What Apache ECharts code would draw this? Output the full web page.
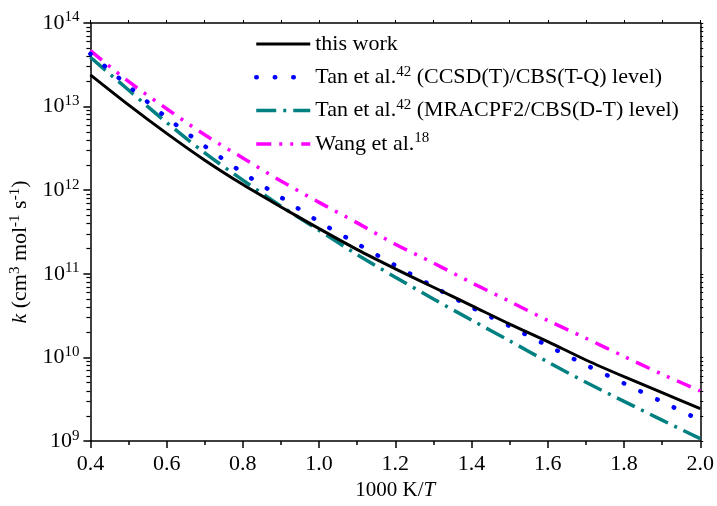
<!DOCTYPE html>
<html>
<head>
<meta charset="utf-8">
<script src="https://cdn.jsdelivr.net/npm/echarts@6/dist/echarts.min.js"></script>
<style>html,body{margin:0;padding:0;background:#fff}#c{width:717px;height:506px}</style>
</head>
<body>
<div id="c"></div>
<script>
// x values: 1000 K / T
var xValues = [0.4, 0.5, 0.6, 0.7, 0.8, 0.9, 1.0, 1.1, 1.2, 1.3, 1.4, 1.5, 1.6, 1.7, 1.8, 1.9, 2.0];
// k (cm^3 mol^-1 s^-1)
var thisWork = [2.40e13, 1.05e13, 4.79e12, 2.29e12, 1.17e12, 6.31e11, 3.47e11, 1.95e11, 1.15e11, 6.92e10, 4.17e10, 2.51e10, 1.55e10, 9.33e9, 5.89e9, 3.80e9, 2.45e9];
var tanCCSD = [4.27e13, 1.76e13, 7.41e12, 3.37e12, 1.62e12, 8.22e11, 4.20e11, 2.29e11, 1.26e11, 7.03e10, 3.98e10, 2.37e10, 1.38e10, 8.13e9, 4.90e9, 2.95e9, 1.78e9];
var tanMRACPF2 = [3.89e13, 1.58e13, 6.46e12, 2.80e12, 1.32e12, 6.46e11, 3.31e11, 1.70e11, 9.12e10, 5.01e10, 2.80e10, 1.58e10, 8.85e9, 5.05e9, 2.99e9, 1.78e9, 1.07e9];
var wang = [4.68e13, 2.00e13, 9.44e12, 4.60e12, 2.43e12, 1.29e12, 7.16e11, 4.07e11, 2.26e11, 1.35e11, 7.85e10, 4.68e10, 2.77e10, 1.70e10, 1.03e10, 6.31e9, 3.98e9];
// tick labels
var xTickLabels = ['0.4', '0.6', '0.8', '1.0', '1.2', '1.4', '1.6', '1.8', '2.0'];
var yExponents = [9, 10, 11, 12, 13, 14];
var yMinorMultipliers = [2, 3, 4, 5, 6, 7, 8, 9];
var seriesNames = ['this work', 'Tan et al. (CCSD(T)/CBS(T-Q) level)', 'Tan et al. (MRACPF2/CBS(D-T) level)', 'Wang et al.'];
var legendRich = {
  'this work': '{n|this work}',
  'Tan et al. (CCSD(T)/CBS(T-Q) level)': '{n|Tan et al.}{s|42}{n| (CCSD(T)/CBS(T-Q) level)}',
  'Tan et al. (MRACPF2/CBS(D-T) level)': '{n|Tan et al.}{s|42}{n| (MRACPF2/CBS(D-T) level)}',
  'Wang et al.': '{n|Wang et al.}{s|18}'
};

function pairs(vals) { return xValues.map(function (x, i) { return [x, vals[i]]; }); }

var minorLog = [];
yExponents.forEach(function (e) {
  if (e < 14) yMinorMultipliers.forEach(function (m) { minorLog.push(e + Math.log10(m)); });
});
var allLog = yExponents.concat(minorLog);

var FONT = 'Liberation Serif';
var styles = [
  { color: '#000000', width: 3, type: 'solid' },
  { color: '#0000ff', width: 4.5, type: [0.5, 18], cap: 'round' },
  { color: '#008080', width: 3.5, type: [20, 7, 3, 7] },
  { color: '#ff00ff', width: 3.5, type: [15, 8, 3, 8, 3, 8] }
];
var chart = echarts.init(document.getElementById('c'), null, { renderer: 'canvas' });
var grid = { left: 89, right: 15, top: 23, bottom: 57 };

var option = {
  animation: false,
  backgroundColor: '#fff',
  grid: grid,
  legend: {
    data: seriesNames.map(function (n, i) { return { name: n, lineStyle: styles[i] }; }),
    orient: 'vertical',
    left: 249,
    top: 28,
    itemWidth: 54,
    itemHeight: 14,
    itemGap: 9.3,
    itemStyle: { opacity: 0 },
    formatter: function (name) { return legendRich[name]; },
    textStyle: {
      fontFamily: FONT, color: '#000',
      rich: {
        n: { fontFamily: FONT, fontSize: 22, lineHeight: 26, color: '#000' },
        s: { fontFamily: FONT, fontSize: 15, lineHeight: 15, verticalAlign: 'top', color: '#000' }
      }
    }
  },
  xAxis: [{
    type: 'value', min: 0.4, max: 2.0, interval: 0.2, position: 'bottom',
    name: '{n|1000 K/}{i|T}', nameLocation: 'middle', nameGap: 36,
    nameTextStyle: {
      rich: {
        n: { fontFamily: FONT, fontSize: 21, color: '#000' },
        i: { fontFamily: FONT, fontSize: 21, fontStyle: 'italic', color: '#000' }
      }
    },
    axisLine: { show: true, lineStyle: { color: '#000', width: 1.5 } },
    axisTick: { show: true, inside: false, length: 7, lineStyle: { color: '#000', width: 1.5 } },
    minorTick: { show: true, splitNumber: 2, length: 4, lineStyle: { color: '#000', width: 1.5 } },
    axisLabel: {
      fontFamily: FONT, fontSize: 22, color: '#000', margin: 12,
      formatter: function (v) { return xTickLabels[Math.round((v - 0.4) / 0.2)]; }
    },
    splitLine: { show: false }, minorSplitLine: { show: false }
  }, {
    type: 'value', min: 0.4, max: 2.0, interval: 0.2, position: 'top',
    axisLine: { show: true, lineStyle: { color: '#000', width: 1.5 } },
    axisTick: { show: true, inside: false, length: 3, lineStyle: { color: '#000', width: 1 } },
    minorTick: { show: true, splitNumber: 2, length: 3, lineStyle: { color: '#000', width: 1 } },
    axisLabel: { show: false }, splitLine: { show: false }
  }],
  yAxis: [{
    type: 'log', logBase: 10, min: 1e9, max: 1e14, position: 'left',
    name: '{i|k}{n| (cm}{s|3}{n| mol}{s|-1}{n| s}{s|-1}{n|)}',
    nameLocation: 'middle', nameRotate: 90, nameGap: 50,
    nameTextStyle: {
      padding: [0, 40, 0, 0],
      rich: {
        n: { fontFamily: FONT, fontSize: 22, lineHeight: 25, color: '#000' },
        i: { fontFamily: FONT, fontSize: 22, lineHeight: 25, fontStyle: 'italic', color: '#000' },
        s: { fontFamily: FONT, fontSize: 15, lineHeight: 15, verticalAlign: 'top', color: '#000' }
      }
    },
    axisLine: { show: true, lineStyle: { color: '#000', width: 1.5 } },
    axisTick: { show: true, inside: false, length: 7, lineStyle: { color: '#000', width: 1.5 } },
    minorTick: { show: false },
    axisLabel: {
      margin: 11,
      formatter: function (v) { return '{b|10}{s|' + Math.round(Math.log10(v)) + '}'; },
      rich: {
        b: { fontFamily: FONT, fontSize: 22, lineHeight: 26, color: '#000' },
        s: { fontFamily: FONT, fontSize: 15, lineHeight: 15, verticalAlign: 'top', color: '#000' }
      }
    },
    splitLine: { show: false }
  }, {
    type: 'value', min: 9, max: 14, position: 'left',
    axisLine: { show: false },
    axisTick: { show: true, inside: false, length: 4, customValues: minorLog, lineStyle: { color: '#000', width: 1.2 } },
    axisLabel: { show: false }, splitLine: { show: false }
  }, {
    type: 'value', min: 9, max: 14, position: 'right',
    axisLine: { show: true, lineStyle: { color: '#000', width: 1.5 } },
    axisTick: { show: true, inside: false, length: 3, customValues: allLog, lineStyle: { color: '#000', width: 1 } },
    axisLabel: { show: false }, splitLine: { show: false }
  }],
  series: [{
    name: seriesNames[0], type: 'line', smooth: 0.3, symbol: 'none', data: pairs(thisWork),
    lineStyle: styles[0], itemStyle: { color: styles[0].color }, z: 5
  }, {
    name: seriesNames[1], type: 'line', smooth: 0.3, symbol: 'none', data: pairs(tanCCSD),
    lineStyle: styles[1], itemStyle: { color: styles[1].color }, z: 4
  }, {
    name: seriesNames[2], type: 'line', smooth: 0.3, symbol: 'none', data: pairs(tanMRACPF2),
    lineStyle: styles[2], itemStyle: { color: styles[2].color }, z: 3
  }, {
    name: seriesNames[3], type: 'line', smooth: 0.3, symbol: 'none', data: pairs(wang),
    lineStyle: styles[3], itemStyle: { color: styles[3].color }, z: 2
  }]
};
chart.setOption(option);
</script>
</body>
</html>
